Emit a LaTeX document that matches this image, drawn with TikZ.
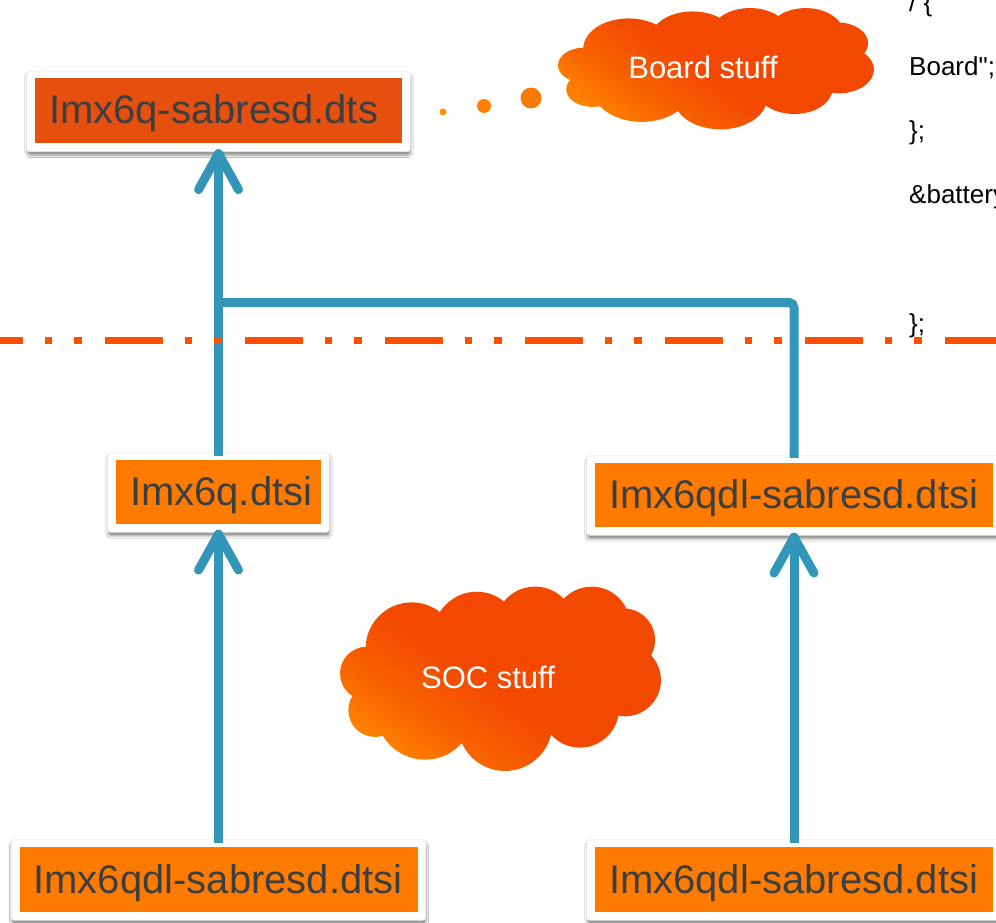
\documentclass[tikz,border=0pt]{standalone}
\usepackage{fontspec}
\setmainfont{Liberation Sans}
\newfontfamily\codefont[Ligatures=TeXOff]{Liberation Sans}
\usetikzlibrary{arrows.meta, shadows.blur, fit, backgrounds}

\definecolor{boxtop}{HTML}{E5500E}
\definecolor{boxorange}{HTML}{FF7B00}
\definecolor{boxtext}{HTML}{3B3F42}
\definecolor{linkblue}{HTML}{3396B9}
\definecolor{dashorange}{HTML}{FA5000}
\definecolor{cloudred}{HTML}{F24800}
\definecolor{cloudmid}{HTML}{F86400}
\definecolor{cloudyellow}{HTML}{FF8C00}
\definecolor{dotA}{HTML}{FF9200}
\definecolor{dotB}{HTML}{FF8000}
\definecolor{dotC}{HTML}{F97A00}

\pgfdeclareverticalshading{cloudshade}{100bp}{color(0bp)=(cloudyellow); color(21bp)=(cloudyellow); color(34bp)=(cloudmid); color(48bp)=(cloudred); color(100bp)=(cloudred)}

% lobes of a cloud: centre (u,v) and radii (a,b), in units of the half width / half height
\newcommand\cloudlobes{%
  -0.833/-0.054/0.167/0.286, -0.781/0.339/0.167/0.286, -0.469/0.339/0.308/0.529,
  0.031/0.482/0.296/0.507, 0.5/0.321/0.244/0.418, 0.781/0.018/0.225/0.386,
  0.771/-0.411/0.198/0.339, 0.573/-0.571/0.240/0.411, 0.219/-0.554/0.25/0.429,
  -0.146/-0.464/0.271/0.464, -0.552/-0.321/0.288/0.493, 0/0.018/0.7/0.6}

\newcommand\drawcloudshape[4]{% centre x, centre y, half width, half height
  \shade[cloudfill]
    \foreach \u/\v/\a/\b in \cloudlobes {
      ({#1+\u*#3},{#2+\v*#4}) ellipse [x radius={\a*#3*1pt}, y radius={\b*#4*1pt}]
    };
}

\tikzset{
  chevron/.tip={Straight Barb[length=36pt,width=40pt,round]},
  conn/.style={draw=linkblue, line width=9pt},
  boxfill/.style={rectangle, inner xsep=14pt, inner ysep=0pt, text=boxtext,
    font=\fontsize{40pt}{48pt}\selectfont, text height=29pt, text depth=2pt, align=left},
  topfill/.style={boxfill, fill=boxtop},
  midfill/.style={boxfill, fill=boxorange},
  boxframe/.style={draw=black!7, line width=0.8pt, fill=white, rounded corners=3pt,
    inner xsep=8pt, inner ysep=7.5pt,
    blur shadow={shadow xshift=0.5pt, shadow yshift=-3.5pt, shadow blur radius=2.5pt, shadow opacity=45}},
  cloudfill/.style={shading=cloudshade, shading angle=-35},
  cloudtext/.style={inner sep=0pt, text=white, font=\fontsize{31pt}{36pt}\selectfont},
  dotnode/.style={circle, inner sep=0pt},
  codetext/.style={anchor=base west, inner sep=0pt, text=black, font=\codefont\fontsize{26pt}{30pt}\selectfont},
  dashline/.style={draw=dashorange, line width=7pt,
    dash pattern=on 58pt off 22pt on 7pt off 22pt on 8pt off 23pt, dash phase=35pt}
}

\begin{document}
\begin{tikzpicture}[x=1pt, y=-1pt]
\useasboundingbox (0,0) rectangle (996,923);
\clip (0,0) rectangle (996,923);

% coloured boxes
\node[topfill, text width=339pt, minimum height=65pt] (dts) at (218.5,110.5) {Imx6q-sabresd.dts};
\node[midfill, text width=177pt, minimum height=64pt] (q) at (218.5,492) {Imx6q.dtsi};
\node[midfill, text width=370pt, minimum height=64pt] (sr) at (794,495) {Imx6qdl-sabresd.dtsi};
\node[midfill, text width=370pt, minimum height=65pt] (bl) at (218.5,879.5) {Imx6qdl-sabresd.dtsi};
\node[midfill, text width=370pt, minimum height=65pt] (br) at (794,879.5) {Imx6qdl-sabresd.dtsi};

% white frames behind
\begin{scope}[on background layer]
  \clip (0,0) rectangle (996,923);
  \fill[white] (0,0) rectangle (996,923);
  \node[boxframe, fit=(dts), yshift=-1pt] (dtsF) {};
  \node[boxframe, fit=(q), yshift=-0.5pt] (qF) {};
  \node[boxframe, fit=(sr), yshift=-0.5pt] (sF) {};
  \node[boxframe, fit=(bl), yshift=-0.5pt] (blF) {};
  \node[boxframe, fit=(br), yshift=-0.5pt] (brF) {};
\end{scope}

% clouds
\drawcloudshape{715.5}{68.5}{157.5}{61.5}
\node[cloudtext] (board) at (703,67) {Board stuff};
\drawcloudshape{500}{678.5}{160}{93.5}
\node[cloudtext] (soc) at (488,677) {SOC stuff};

% dots
\node[dotnode, fill=dotA, minimum size=7pt] (d1) at (443,112) {};
\node[dotnode, fill=dotB, minimum size=14pt] (d2) at (484,106) {};
\node[dotnode, fill=dotC, minimum size=21pt] (d3) at (531,98) {};

% connectors
\coordinate (joint) at (218.5,302.5);
\draw[conn, -{chevron}, shorten <=4pt, shorten >=-3pt] (q.north) -- (dtsF.south);
\draw[conn, rounded corners=5pt, shorten <=5pt] (sr.north) |- (joint);
\draw[conn, -{chevron}, shorten <=4pt, shorten >=-3pt] (bl.north) -- (qF.south);
\draw[conn, -{chevron}, shorten <=4pt, shorten >=-3pt] (br.north) -- (sF.south);

% dash-dot-dot separator
\coordinate (dl) at (0,340);
\coordinate (dr) at (996,340);
\draw[dashline] (dl) -- (dr);

% code text at right
\node[codetext] (c1) at (909,12) {/ \{};
\node[codetext] (c2) at (909,76) {Board";};
\node[codetext] (c3) at (909,140) {\};};
\node[codetext] (c4) at (909,204) {\&battery};
\node[codetext] (c5) at (909,332) {\};};
\end{tikzpicture}
\end{document}
